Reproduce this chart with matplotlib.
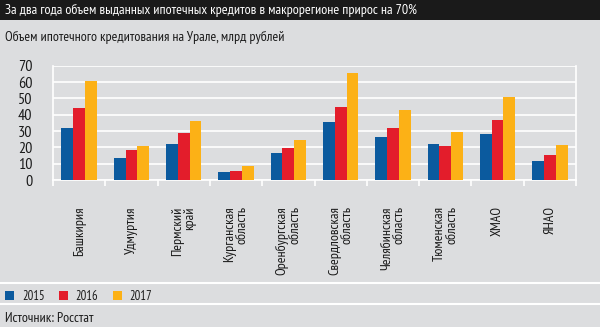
import matplotlib.pyplot as plt
import numpy as np
from matplotlib.lines import Line2D
from matplotlib.patches import Rectangle

plt.rcParams['font.family'] = ['PT Sans Narrow', 'DejaVu Sans']

# Data
regions = ['Башкирия', 'Удмуртия', 'Пермский\nкрай', 'Курганская\nобласть',
           'Оренбургская\nобласть', 'Свердловская\nобласть', 'Челябинская\nобласть',
           'Тюменская\nобласть', 'ХМАО', 'ЯНАО']
years = ['2015', '2016', '2017']
v2015 = [31.6, 13.3, 21.8, 5.1, 16.3, 35.3, 26.3, 22.0, 28.4, 11.6]
v2016 = [43.9, 18.4, 29.0, 5.7, 19.4, 44.5, 31.6, 21.0, 36.9, 15.3]
v2017 = [60.6, 21.0, 35.9, 8.4, 24.7, 65.5, 42.7, 29.4, 50.6, 21.6]
yticks = [0, 10, 20, 30, 40, 50, 60, 70]

colors = ['#0b5a9e', '#e31d2b', '#fcb116']
bg = '#dcdddf'
ink = '#1a1a1a'

W, H = 600, 327
fig = plt.figure(figsize=(6, 3.27), dpi=100)
fig.patch.set_facecolor(bg)

# Title bar
fig.patches.append(Rectangle((0, 1 - 20 / H), 1, 20 / H, transform=fig.transFigure,
                             facecolor='#1a1a1a', edgecolor='none'))
fig.text(5 / W, 1 - 10.5 / H, 'За два года объем выданных ипотечных кредитов в макрорегионе прирос на 70%',
         color='white', fontsize=10.1, va='center', ha='left')
fig.text(5 / W, 1 - 37 / H, 'Объем ипотечного кредитования на Урале, млрд рублей',
         color=ink, fontsize=10, va='center', ha='left')

ax = fig.add_axes([53 / W, 1 - 180 / H, 523 / W, 114.3 / H])
ax.set_facecolor(bg)

x = np.arange(len(regions))
bw = 0.225
for i, vals in enumerate([v2015, v2016, v2017]):
    ax.bar(x + (i - 1) * bw, vals, width=bw, color=colors[i], label=years[i], zorder=3)

ax.set_xlim(-0.5, len(regions) - 0.5)
ax.set_ylim(0, 70)
ax.set_yticks(yticks)
ax.yaxis.grid(True, color='white', linewidth=1.2, zorder=1)
ax.tick_params(axis='y', length=0, pad=15, labelsize=11.5, labelcolor=ink)

ax.set_xticks(np.arange(len(regions) + 1) - 0.5)
ax.set_xticklabels([])
ax.tick_params(axis='x', which='major', length=4, color='white', width=1.2)
ax.set_xticks(x, minor=True)
ax.set_xticklabels(regions, minor=True, rotation=90, va='top', ha='center',
                   multialignment='right', fontsize=10, color=ink,
                   linespacing=0.95)
ax.tick_params(axis='x', which='minor', length=0, pad=19)

ax.spines['top'].set_visible(False)
for s in ['left', 'right', 'bottom']:
    ax.spines[s].set_color('white')
    ax.spines[s].set_linewidth(1.2)

# Separator lines
for yy in [283, 304]:
    fig.add_artist(Line2D([0, 1], [1 - yy / H, 1 - yy / H], transform=fig.transFigure,
                          color='white', linewidth=1.5))

handles = [Rectangle((0, 0), 1, 1, facecolor=c, edgecolor='none') for c in colors]
leg = fig.legend(handles, years, loc='center left', bbox_to_anchor=(0, 1 - 296.5 / H),
                 ncol=3, frameon=False, handlelength=0.75, handleheight=0.75,
                 handletextpad=0.6, columnspacing=1.15, borderaxespad=0, borderpad=0.4,
                 fontsize=9)
for t in leg.get_texts():
    t.set_color(ink)

fig.text(5 / W, 1 - 318 / H, 'Источник: Росстат', color=ink, fontsize=10,
         va='center', ha='left')

fig.savefig('out.png', dpi=100, facecolor=bg)
